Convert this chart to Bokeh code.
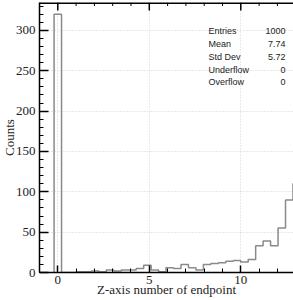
import numpy as np
from bokeh.plotting import figure
from bokeh.models import Range1d, SingleIntervalTicker, Label, AllLabels, Title
from bokeh.embed import file_html
from bokeh.resources import INLINE

# ---- data ----
bin_width = 0.408
counts = [320, 0, 0, 1, 1, 2, 1, 3, 2, 3, 3, 5, 9, 3, 1, 6, 5, 10, 6, 3,
          10, 11, 12, 14, 15, 13, 16, 33, 39, 33, 55, 90, 110]
stat_names = ["Entries", "Mean", "Std Dev", "Underflow", "Overflow"]
stat_values = ["1000", "7.74", "5.72", "0", "0"]
x_label = "Z-axis number of endpoint"
y_label = "Counts"
x_major_step, x_minor_per_major = 5, 5
y_major_step, y_minor_per_major = 50, 5

# ---- layout (page pixels) ----
W, H = 293, 300
FRAME_L, FRAME_R, FRAME_T, FRAME_B = 39, 293, 2, 272
X0, X1, Y0, Y1 = -1.0, 12.88, 0.0, 334.6


def dx(px):
    return X0 + (px - FRAME_L) * (X1 - X0) / (FRAME_R - FRAME_L)


def dy(py):
    return Y0 + (FRAME_B - py) * (Y1 - Y0) / (FRAME_B - FRAME_T)


edges = (np.arange(len(counts) + 1) - 0.5) * bin_width
xs = np.repeat(edges, 2)
ys = np.concatenate([[0], np.repeat(counts, 2), [0]])

p = figure(width=W, height=H, x_range=Range1d(X0, X1), y_range=Range1d(Y0, Y1),
           output_backend="svg", toolbar_location=None,
           min_border_left=FRAME_L, min_border_right=W - FRAME_R,
           min_border_top=FRAME_T, min_border_bottom=H - FRAME_B)
p.background_fill_color = "white"
p.border_fill_color = "white"
p.outline_line_color = None

xt = SingleIntervalTicker(interval=x_major_step, num_minor_ticks=x_minor_per_major)
yt = SingleIntervalTicker(interval=y_major_step, num_minor_ticks=y_minor_per_major)
p.xaxis.ticker = xt
p.yaxis.ticker = yt
p.xgrid.ticker = xt
p.ygrid.ticker = yt
for g in (p.xgrid, p.ygrid):
    g.grid_line_color = "#d2d2d2"
    g.grid_line_dash = "1 2"
    g.grid_line_width = 1

for ax in p.axis:
    ax.axis_line_color = "black"
    ax.axis_line_width = 1.5
    ax.major_tick_out = 0
    ax.minor_tick_out = 0
    ax.major_tick_line_color = "black"
    ax.minor_tick_line_color = "black"
    ax.major_tick_line_width = 1.5
    ax.minor_tick_line_width = 1
    ax.major_label_text_font = "Liberation Serif"
    ax.major_label_text_font_size = "13px"
    ax.major_label_text_color = "#222222"
    ax.major_label_policy = AllLabels()
    ax.axis_label_text_font = "Liberation Serif"
    ax.axis_label_text_font_size = "13px"
    ax.axis_label_text_font_style = "normal"
    ax.axis_label_text_color = "#222222"

p.xaxis.major_tick_in = 7
p.xaxis.minor_tick_in = 4
p.xaxis.major_label_standoff = 3
p.xaxis.axis_label = x_label
p.xaxis.axis_label_standoff = -5
p.yaxis.major_tick_in = 9
p.yaxis.minor_tick_in = 4
p.yaxis.major_label_standoff = 4

# y title as a side title, pulled in towards the tick labels
p.add_layout(Title(text=y_label, align="center", text_font="Liberation Serif",
                   text_font_size="13px", text_font_style="normal",
                   text_color="#222222", standoff=-8), "left")

# top border and ticks along the top edge of the frame (same spacing as the x axis)
p.line([X0, X1], [Y1, Y1], line_color="black", line_width=3)
minor_step = x_major_step / x_minor_per_major
tick_pos = np.arange(np.ceil(X0 / minor_step), np.floor(X1 / minor_step) + 1) * minor_step
is_major = np.isclose(np.mod(tick_pos, x_major_step), 0)
tick_len = np.where(is_major, dy(FRAME_T) - dy(FRAME_T + 8), dy(FRAME_T) - dy(FRAME_T + 3.5))
p.segment(x0=tick_pos, y0=np.full(len(tick_pos), Y1), x1=tick_pos, y1=Y1 - tick_len,
          line_color="black", line_width=np.where(is_major, 1.5, 1))

p.line(xs, ys, line_color="#8a8a8a", line_width=1.5)

# stats box
row_y = [30.7, 43.3, 56.0, 69.0, 81.7]
for name, val, ry in zip(stat_names, stat_values, row_y):
    p.add_layout(Label(x=dx(208), y=dy(ry), text=name, text_font="Liberation Sans",
                       text_font_size="9px", text_color="#222222",
                       text_align="left", text_baseline="middle"))
    p.add_layout(Label(x=dx(285), y=dy(ry), text=val, text_font="Liberation Sans",
                       text_font_size="9px", text_color="#222222",
                       text_align="right", text_baseline="middle"))

open("out.html", "w").write(file_html(p, INLINE))
